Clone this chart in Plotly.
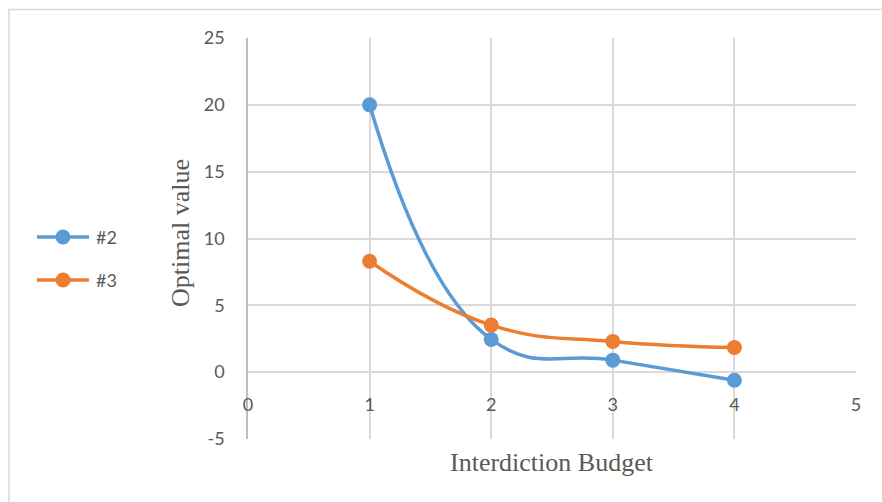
import plotly.graph_objects as go

# Interdiction budget vs. optimal objective value for two instances
budget = [1, 2, 3, 4]
series_names = ["#2", "#3"]
values_2 = [20.0, 2.45, 0.9, -0.6]
values_3 = [8.3, 3.52, 2.3, 1.85]
colors = ["#5B9BD5", "#ED7D31"]

x_ticks = [0, 1, 2, 3, 4, 5]
y_ticks = [-5, 0, 5, 10, 15, 20, 25]

W, H = 882, 502
L, R, T, B = 248, 26, 38, 63
PW, PH = W - L - R, H - T - B


def px(x):
    return (x - L) / PW


def py(y):
    return (T + PH - y) / PH


GRID = "#D9D9D9"
TXT = "#595959"
SANS = "Lato, Carlito, Calibri, sans-serif"
SERIF = "'Liberation Serif', 'Times New Roman', serif"

fig = go.Figure()
for name, vals, col in zip(series_names, [values_2, values_3], colors):
    fig.add_trace(go.Scatter(
        x=budget, y=vals, name=name, mode="lines+markers",
        line=dict(color=col, width=3.5, shape="spline", smoothing=1.3),
        marker=dict(color=col, size=15),
        showlegend=False,
    ))

fig.update_layout(
    width=W, height=H,
    margin=dict(l=L, r=R, t=T, b=B),
    paper_bgcolor="white", plot_bgcolor="white",
    xaxis=dict(
        range=[0, 5], tickvals=x_ticks, ticktext=[str(v) for v in x_ticks],
        showgrid=True, gridcolor=GRID, gridwidth=1.5,
        zeroline=False, showline=False, ticks="",
        anchor="free", position=py(372), ticklabelstandoff=20,
        tickfont=dict(family=SANS, size=18, color=TXT),
    ),
    yaxis=dict(
        range=[-5, 25], tickvals=y_ticks, ticktext=[str(v) for v in y_ticks],
        showgrid=True, gridcolor=GRID, gridwidth=1.5,
        zeroline=False, showline=True, linecolor="#BFBFBF", linewidth=1.5,
        ticks="", ticklabelstandoff=18,
        tickfont=dict(family=SANS, size=18, color=TXT),
    ),
)

# axis titles
fig.add_annotation(x=px(552), y=py(462), xref="paper", yref="paper",
                   xanchor="center", yanchor="middle",
                   text="Interdiction Budget", showarrow=False,
                   font=dict(family=SERIF, size=26, color=TXT))
fig.add_annotation(x=px(180), y=py(233), xref="paper", yref="paper",
                   xanchor="center", yanchor="middle",
                   text="Optimal value", showarrow=False, textangle=-90,
                   font=dict(family=SERIF, size=26, color=TXT))

# legend on the left
for i, (name, col) in enumerate(zip(series_names, colors)):
    yy = py(237 + 43 * i)
    fig.add_shape(type="line", xref="paper", yref="paper",
                  x0=px(37), x1=px(89), y0=yy, y1=yy,
                  line=dict(color=col, width=3.5))
    fig.add_shape(type="circle", xref="paper", yref="paper",
                  x0=px(63 - 7.5), x1=px(63 + 7.5),
                  y0=yy - 7.5 / PH, y1=yy + 7.5 / PH,
                  fillcolor=col, line=dict(width=0))
    fig.add_annotation(x=px(94), y=yy, xref="paper", yref="paper",
                       text=name, showarrow=False, xanchor="left",
                       font=dict(family=SANS, size=18, color=TXT))

# chart frame
fig.add_shape(type="rect", xref="paper", yref="paper",
              x0=px(9), x1=px(900), y0=py(9.5), y1=py(520),
              line=dict(color=GRID, width=1.5), layer="below")

fig.write_html("out.html")
